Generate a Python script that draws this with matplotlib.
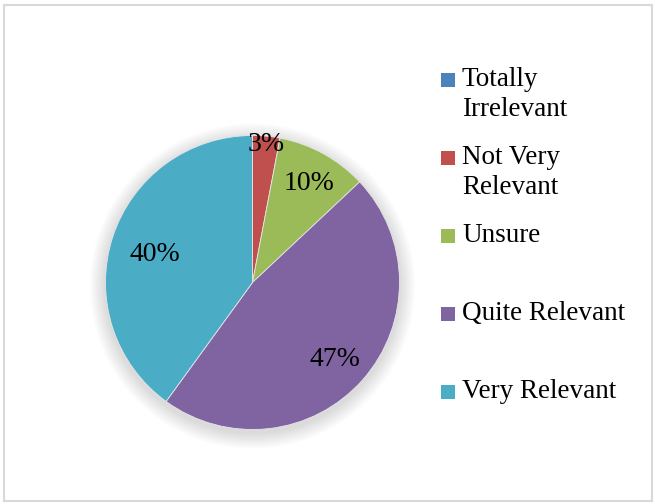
import numpy as np
import matplotlib
matplotlib.use("Agg")
import matplotlib.pyplot as plt
from matplotlib.patches import Rectangle, Circle

labels = ["Totally\nIrrelevant", "Not Very\nRelevant", "Unsure", "Quite Relevant", "Very Relevant"]
values = [0, 3, 10, 47, 40]
colors = ["#4F81BD", "#C0504D", "#9BBB59", "#8064A2", "#4BACC6"]
label_dist = [0.7, 0.97, 0.80, 0.75, 0.70]

plt.rcParams["font.family"] = ["Liberation Serif", "DejaVu Serif"]

W, H = 655, 504
fig = plt.figure(figsize=(W / 100, H / 100), dpi=100)

# outer chart border
fig.patches.append(Rectangle((4 / W, 3 / H), 648 / W, 496 / H, transform=fig.transFigure,
                             fill=False, edgecolor="#d9d9d9", linewidth=1.5))

# pie axes: center (252.5, 282.5) px, radius 147 px
cx, cy, r = 252.5, H - 282.5, 147
half = 165
ax = fig.add_axes([(cx - half) / W, (cy - half) / H, 2 * half / W, 2 * half / H])

wedges, _ = ax.pie(values, colors=colors, startangle=90, counterclock=False,
                   radius=1, wedgeprops=dict(edgecolor="#e6e6e6", linewidth=0.6, zorder=2))

# soft shadow behind the pie
for k in range(18):
    rad = 1.0 + 0.006 * (k + 1)
    ax.add_patch(Circle((0, -0.025), rad, facecolor="black", edgecolor="none",
                        alpha=0.009, zorder=0))

lim = half / r
ax.set_xlim(-lim, lim)
ax.set_ylim(-lim, lim)
ax.set_aspect("equal")
ax.axis("off")

for w, v, d in zip(wedges, values, label_dist):
    if v == 0:
        continue
    ang = np.deg2rad((w.theta1 + w.theta2) / 2)
    ax.text(d * np.cos(ang), d * np.sin(ang) - 0.027, f"{v}%", ha="center", va="center",
            fontsize=20, zorder=3)

# legend drawn by hand
y0, step = 79.5, 78
for i, (lab, col) in enumerate(zip(labels, colors)):
    yc = y0 + step * i
    fig.patches.append(Rectangle((441 / W, (H - yc - 7) / H), 14 / W, 14 / H,
                                 transform=fig.transFigure, facecolor=col, edgecolor="none"))
    for j, line in enumerate(lab.split("\n")):
        fig.text(462 / W, (H - yc - 30 * j) / H, line, ha="left", va="center", fontsize=19.5)

fig.savefig("out.png", dpi=100)
